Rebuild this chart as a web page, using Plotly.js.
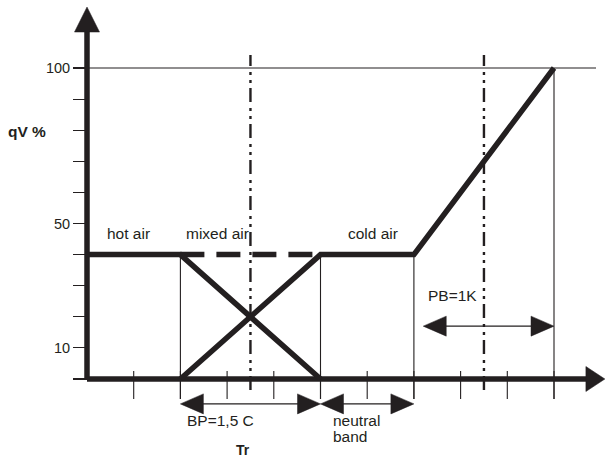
<!DOCTYPE html>
<html>
<head>
<meta charset="utf-8">
<script src="https://cdn.plot.ly/plotly-3.0.1.min.js"></script>
<style>html,body{margin:0;padding:0;background:#fff;}#chart{width:606px;height:460px;}</style>
</head>
<body>
<div id="chart"></div>
<script>
// ---- data (diagram units: x = temperature steps, y = qV %) ----
const yTickVals = [0, 10, 20, 30, 40, 50, 60, 70, 80, 90, 100];
const yTickText = ['', '10', '', '', '', '50', '', '', '', '', '100'];
const xTickVals = [1, 2, 3, 4, 5, 6, 7, 8, 9, 10];

const hotX = [0, 2, 5];
const hotY = [40, 40, 0];
const coldX = [2, 5, 7, 10];
const coldY = [0, 40, 40, 100];
const mixedX = [2, 5];
const mixedY = [40, 40];

const guideX = [2, 5, 7, 10];
const guideTop = [40, 40, 40, 100];
const guideBottom = -6.4;
const refLevel = 100;
const refEnd = 10.9;

const setpointX = [3.5, 8.5];
const setpointTop = 104.2;
const setpointBottom = -3.5;

const bandStart = [2, 5, 7.2];
const bandEnd = [5, 7, 10];
const bandLevel = [-8, -8, 17];

const yAxisTop = 119.6;
const xAxisEnd = 11.09;

const labelText = ['hot air', 'mixed air', 'cold air', 'PB=1K', 'BP=1,5 C', 'neutral', 'band'];
const labelX = [0.88, 2.805, 6.124, 7.837, 2.869, 5.225, 5.225];
const labelY = [46.9, 46.9, 46.9, 26.7, -13.5, -13.5, -18.6];
const labelAnchor = ['center', 'center', 'center', 'center', 'center', 'left', 'left'];
const xTitle = 'Tr', xTitleX = 3.34, xTitleY = -22.8;
const yTitle = 'qV %', yTitleX = -1.285, yTitleY = 79.7;

// ---- geometry of the page ----
const W = 606, H = 460, X0PX = 87, Y0PX = 379, PX_X = 46.7, PX_Y = 3.11;
const dx = p => p / PX_X, dy = p => p / PX_Y;
const INK = '#231f20';
const FONT = 'Liberation Sans, Arial, sans-serif';
const THICK = 5.5;

const traces = [];
function seg(xs, ys, width, dash, color) {
  traces.push({x: xs, y: ys, mode: 'lines', hoverinfo: 'skip', showlegend: false,
    line: {color: color || INK, width: width, dash: dash || 'solid'}});
}
function tri(tx, ty, dir, len, half) {
  let xs, ys;
  if (dir === 'right') { xs = [tx, tx - dx(len), tx - dx(len), tx]; ys = [ty, ty + dy(half), ty - dy(half), ty]; }
  else if (dir === 'left') { xs = [tx, tx + dx(len), tx + dx(len), tx]; ys = [ty, ty + dy(half), ty - dy(half), ty]; }
  else { xs = [tx, tx - dx(half), tx + dx(half), tx]; ys = [ty, ty - dy(len), ty - dy(len), ty]; }
  traces.push({x: xs, y: ys, mode: 'lines', fill: 'toself', fillcolor: INK, hoverinfo: 'skip',
    showlegend: false, line: {color: INK, width: 0.5}});
}

// thin guides
guideX.forEach((g, i) => seg([g, g], [guideBottom, guideTop[i]], 1.1));
seg([0, refEnd], [refLevel, refLevel], 1.1);
// x ticks (crossing the axis)
const tx = [], ty = [];
xTickVals.forEach(v => { tx.push(v, v, null); ty.push(dy(8), -dy(20), null); });
seg(tx, ty, 1.1);
// set-point dash-dot lines
setpointX.forEach(s => seg([s, s], [setpointBottom, setpointTop], 2.4, '14px,5px,3px,5px,3px,6px'));
// bands (double arrows)
bandStart.forEach((b, i) => {
  seg([b + dx(12), bandEnd[i] - dx(12)], [bandLevel[i], bandLevel[i]], 1.1);
  tri(b, bandLevel[i], 'left', 23, 10);
  tri(bandEnd[i], bandLevel[i], 'right', 23, 10);
});
// axes
seg([0, xAxisEnd - dx(10)], [0, 0], THICK);
seg([0, 0], [0, yAxisTop - dy(15)], THICK);
tri(xAxisEnd, 0, 'right', 19, 12.5);
tri(0, yAxisTop, 'up', 25, 12.5);
// curves
seg(mixedX, mixedY, THICK, '24px,12px');
seg(hotX, hotY, THICK);
seg(coldX, coldY, THICK);

const annotations = labelText.map((t, i) => ({
  x: labelX[i], y: labelY[i], text: t, showarrow: false, xanchor: labelAnchor[i], yanchor: 'middle',
  font: {family: FONT, size: 15.5, color: INK}
}));
annotations.push({x: xTitleX, y: xTitleY, text: '<b>' + xTitle + '</b>', showarrow: false,
  xanchor: 'center', yanchor: 'middle', font: {family: FONT, size: 14, color: INK}});
annotations.push({x: yTitleX, y: yTitleY, text: '<b>' + yTitle + '</b>', showarrow: false,
  xanchor: 'center', yanchor: 'middle', font: {family: FONT, size: 15.5, color: INK}});

const layout = {
  width: W, height: H,
  margin: {l: 0, r: 0, t: 0, b: 0},
  paper_bgcolor: '#fff', plot_bgcolor: '#fff',
  showlegend: false,
  xaxis: {range: [-X0PX / PX_X, (W - X0PX) / PX_X], visible: false, fixedrange: true},
  yaxis: {range: [-(H - Y0PX) / PX_Y, Y0PX / PX_Y], anchor: 'free', position: X0PX / W,
    tickvals: yTickVals, ticktext: yTickText, ticks: 'outside', ticklen: 14, tickwidth: 1.1,
    tickcolor: INK, showline: false, showgrid: false, zeroline: false, fixedrange: true,
    tickfont: {family: FONT, size: 14.5, color: INK}},
  annotations: annotations
};

Plotly.newPlot('chart', traces, layout, {staticPlot: true, displayModeBar: false});
</script>
</body>
</html>
